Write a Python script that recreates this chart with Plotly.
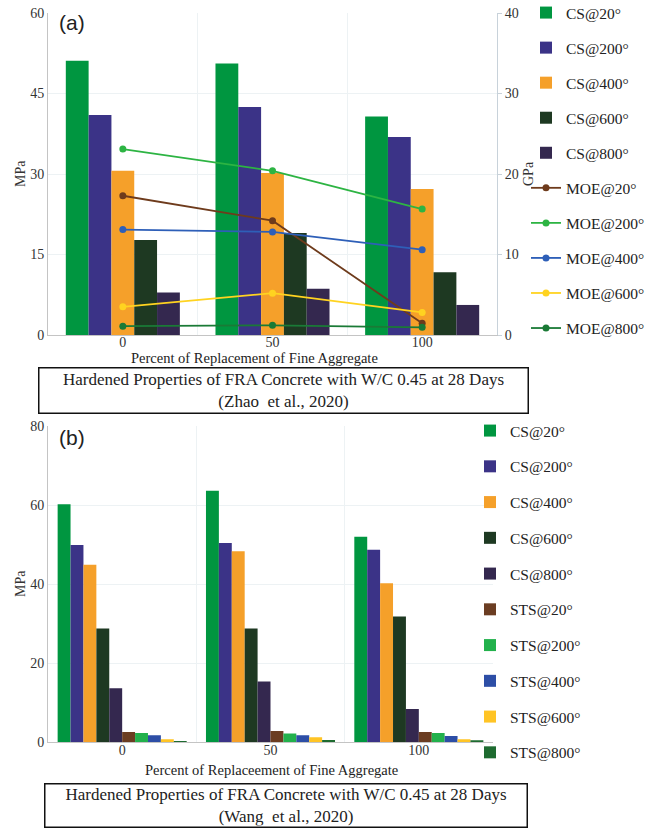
import plotly.graph_objects as go

W, H = 659, 828

categories = ["0", "50", "100"]

# ---- (a) Zhao et al., 2020 : compressive strength (MPa) ----
cs_names = ["CS@20°", "CS@200°", "CS@400°", "CS@600°", "CS@800°"]
cs_a_20 = [51.1, 50.6, 40.7]
cs_a_200 = [41.0, 42.5, 36.9]
cs_a_400 = [30.6, 30.2, 27.2]
cs_a_600 = [17.7, 19.0, 11.7]
cs_a_800 = [7.9, 8.6, 5.6]

# ---- (a) modulus of elasticity (GPa) ----
moe_names = ["MOE@20°", "MOE@200°", "MOE@400°", "MOE@600°", "MOE@800°"]
moe_20 = [17.3, 14.2, 1.45]
moe_200 = [23.1, 20.4, 15.65]
moe_400 = [13.1, 12.8, 10.6]
moe_600 = [3.5, 5.2, 2.8]
moe_800 = [1.1, 1.2, 0.95]

# ---- (b) Wang et al., 2020 (MPa) ----
cs_b_20 = [60.2, 63.6, 52.0]
cs_b_200 = [49.9, 50.4, 48.7]
cs_b_400 = [44.9, 48.3, 40.2]
cs_b_600 = [28.8, 28.8, 31.8]
cs_b_800 = [13.7, 15.4, 8.4]
sts_names = ["STS@20°", "STS@200°", "STS@400°", "STS@600°", "STS@800°"]
sts_20 = [2.6, 2.85, 2.6]
sts_200 = [2.35, 2.2, 2.35]
sts_400 = [1.77, 1.77, 1.6]
sts_600 = [0.76, 1.26, 0.76]
sts_800 = [0.3, 0.58, 0.5]

cs_colors = ["#009640", "#3B3387", "#F5A02A", "#1E3922", "#34284F"]
moe_colors = ["#6E3B1C", "#2DB443", "#2E5FB8", "#FFD320", "#1A7A36"]
sts_colors = ["#6B3D22", "#22B14C", "#2D4EA6", "#FFC425", "#1E6B30"]

SERIF = "Liberation Serif"
SANS = "Liberation Sans"

fig = go.Figure()

# (a) bars
cs_a = [cs_a_20, cs_a_200, cs_a_400, cs_a_600, cs_a_800]
group_w_a = 0.762
bw_a = group_w_a / len(cs_a)
for i, (name, vals, col) in enumerate(zip(cs_names, cs_a, cs_colors)):
    fig.add_trace(go.Bar(
        x=categories, y=vals, name=name, marker=dict(color=col, line=dict(width=0)),
        width=bw_a, offset=-group_w_a / 2 + i * bw_a,
        xaxis="x", yaxis="y", legend="legend", legendgroup="a%d" % i,
    ))

# (a) lines
moe = [moe_20, moe_200, moe_400, moe_600, moe_800]
for i, (name, vals, col) in enumerate(zip(moe_names, moe, moe_colors)):
    fig.add_trace(go.Scatter(
        x=categories, y=vals, name=name, mode="lines+markers",
        line=dict(color=col, width=1.8), marker=dict(color=col, size=7),
        xaxis="x", yaxis="y2", legend="legend", legendgroup="m%d" % i,
    ))

# (b) bars
b_series = [cs_b_20, cs_b_200, cs_b_400, cs_b_600, cs_b_800,
            sts_20, sts_200, sts_400, sts_600, sts_800]
b_names = cs_names + sts_names
b_colors = cs_colors + sts_colors
group_w_b = 0.87
bw_b = group_w_b / len(b_series)
for i, (name, vals, col) in enumerate(zip(b_names, b_series, b_colors)):
    fig.add_trace(go.Bar(
        x=categories, y=vals, name=name, marker=dict(color=col, line=dict(width=0)),
        width=bw_b, offset=-group_w_b / 2 + i * bw_b,
        xaxis="x2", yaxis="y3", legend="legend2", legendgroup="b%d" % i,
    ))

tickfont = dict(family=SERIF, size=14, color="#333333")
grid = "#edf2f4"
axline = "#c4c4c4"

def px(x):
    return x / W

def py(y):
    return 1 - y / H

fig.update_layout(
    width=W, height=H, autosize=False,
    margin=dict(l=0, r=0, t=0, b=0, autoexpand=False),
    paper_bgcolor="white", plot_bgcolor="white",
    barmode="group",
    xaxis=dict(domain=[px(48), px(497)], anchor="y", type="category",
               range=[-0.5, 2.5], tickson="boundaries", showgrid=True, gridcolor=grid,
               showline=True, linecolor=axline, ticks="", tickfont=tickfont, zeroline=False,
               ticklabelstandoff=-6),
    yaxis=dict(domain=[py(335), py(13)], range=[0, 60], dtick=15, showgrid=True, gridcolor=grid,
               showline=True, linecolor=axline, ticks="", tickfont=tickfont, zeroline=False),
    yaxis2=dict(overlaying="y", side="right", anchor="x", range=[0, 40], dtick=10, showgrid=False,
                showline=True, linecolor="#c8d2da", ticks="outside", ticklen=4, tickcolor="#c8d2da",
                tickfont=tickfont, zeroline=False),
    xaxis2=dict(domain=[px(48), px(493)], anchor="y3", type="category",
                range=[-0.5, 2.5], tickson="boundaries", showgrid=True, gridcolor=grid,
                showline=True, linecolor=axline, ticks="", tickfont=tickfont, zeroline=False,
                ticklabelstandoff=-5),
    yaxis3=dict(domain=[py(742.3), py(426)], range=[0, 80], dtick=20, showgrid=True, gridcolor=grid,
                showline=True, linecolor=axline, ticks="", tickfont=tickfont, zeroline=False),
    legend=dict(x=px(526), xanchor="left", y=py(-4), yanchor="top",
                font=dict(family=SERIF, size=15.5, color="#222222"),
                tracegroupgap=11.9, bgcolor="rgba(0,0,0,0)", traceorder="grouped"),
    legend2=dict(x=px(470), xanchor="left", y=py(414), yanchor="top",
                 font=dict(family=SERIF, size=15.5, color="#222222"),
                 tracegroupgap=12.6, bgcolor="rgba(0,0,0,0)", traceorder="grouped"),
)

ann = []
def add_text(text, x, y, size, family=SERIF, angle=0, xanchor="center", **kw):
    ann.append(dict(text=text, x=px(x), y=py(y), xref="paper", yref="paper",
                    xanchor=xanchor, yanchor="middle", showarrow=False, textangle=angle,
                    font=dict(family=family, size=size, color=kw.pop("color", "#222222")), **kw))

add_text("(a)", 57, 22, 21, family=SANS, xanchor="left")
add_text("(b)", 57, 437, 21, family=SANS, xanchor="left")
add_text("MPa", 20, 174, 14, angle=-90, color="#333333")
add_text("GPa", 528, 174, 14, angle=-90, color="#333333")
add_text("MPa", 20, 584, 14, angle=-90, color="#333333")
add_text("Percent of Replacement of Fine Aggregate", 254, 358, 14.5)
add_text("Percent of Replaceement of Fine Aggregate", 271, 770, 14.5)
add_text("Hardened Properties of FRA Concrete with W/C 0.45 at 28 Days<br>(Zhao  et al., 2020)",
         283, 390, 17, width=486, height=42, bordercolor="#111111", borderwidth=1.5, borderpad=1)
add_text("Hardened Properties of FRA Concrete with W/C 0.45 at 28 Days<br>(Wang  et al., 2020)",
         285.5, 805, 17, width=479, height=40, bordercolor="#111111", borderwidth=1.5, borderpad=1)

fig.update_layout(annotations=ann)

fig.write_html("out.html", config={"responsive": False, "displayModeBar": False},
               post_script="document.body.style.margin='0px';document.body.style.overflow='hidden';")
